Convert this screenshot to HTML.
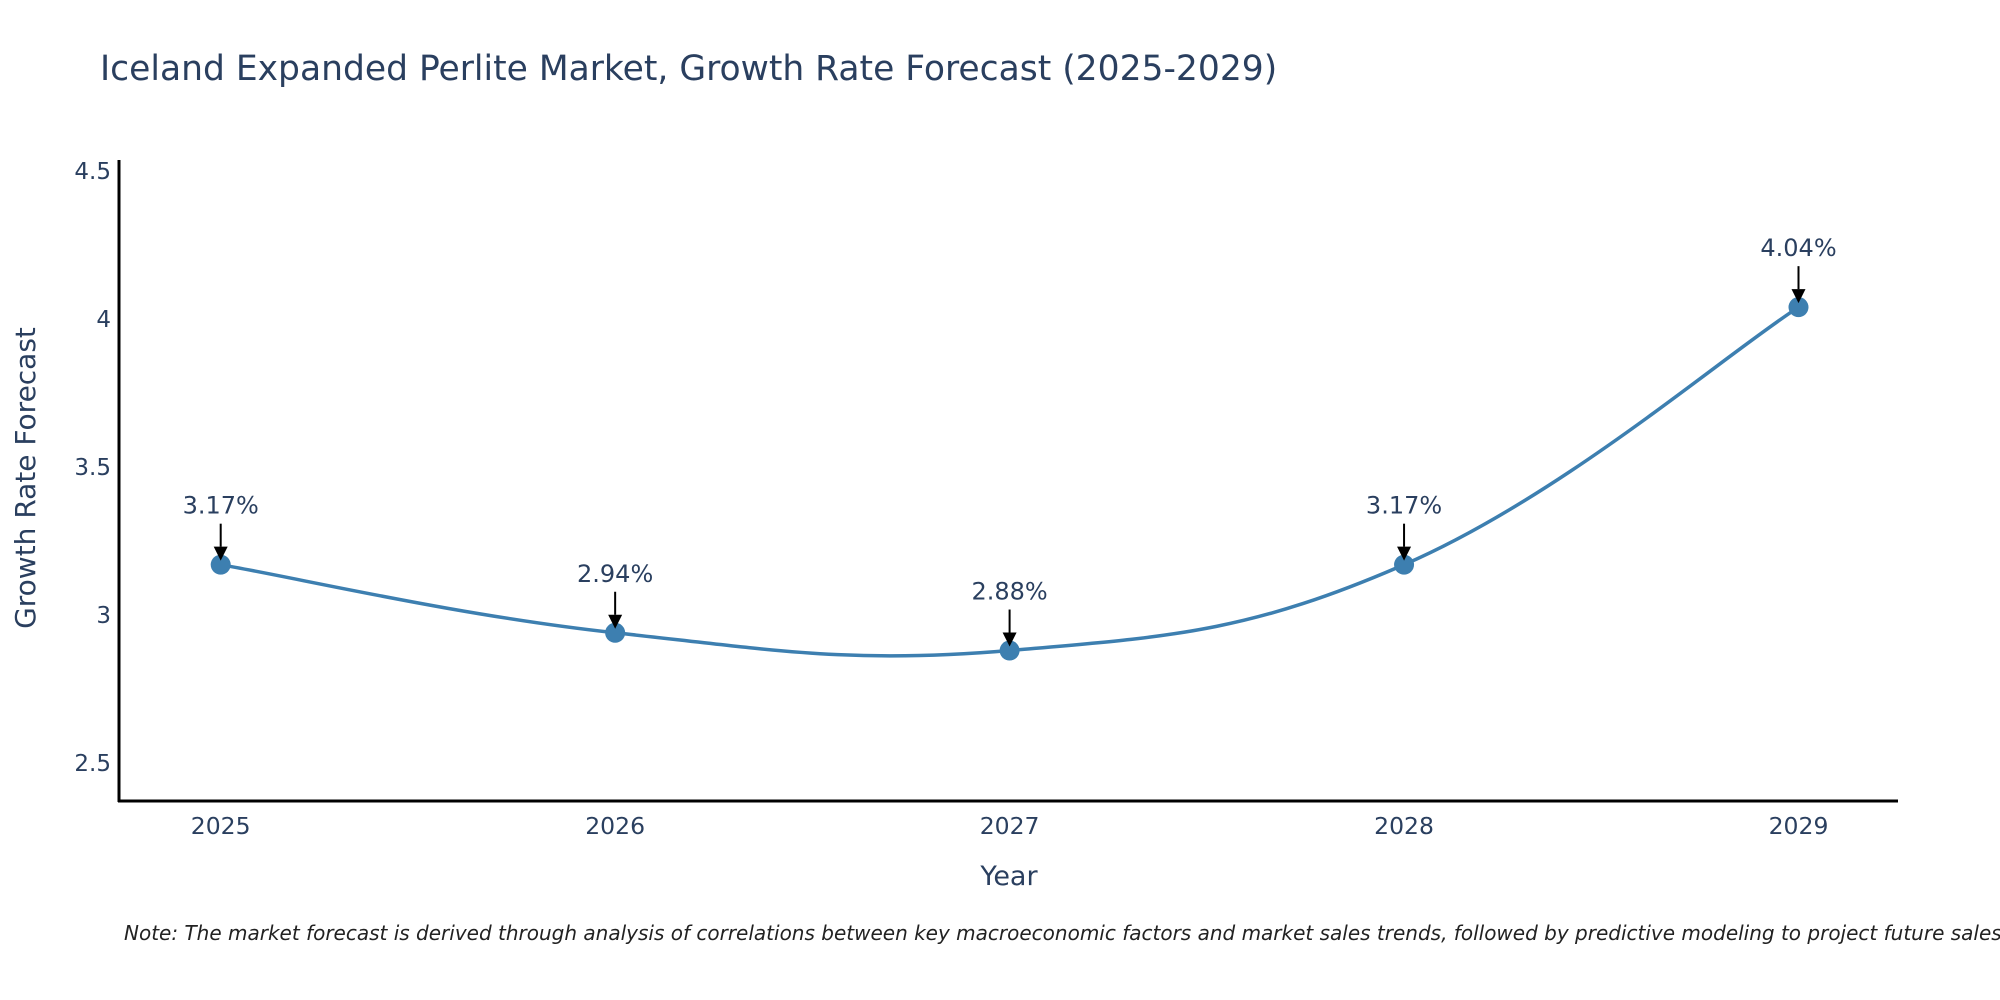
<!DOCTYPE html>
<html><head><meta charset="utf-8"><style>
body{margin:0;background:#fff;}
svg{display:block;font-family:"DejaVu Sans","Liberation Sans",sans-serif;}
</style></head><body>
<svg id="chart" width="2000" height="1000">
<text x="100" y="80" font-size="34.5" fill="#2a3f5f">Iceland Expanded Perlite Market, Growth Rate Forecast (2025-2029)</text>
<g id="plot"></g>
<line x1="119" y1="160" x2="119" y2="802" stroke="#000" stroke-width="3"/>
<line x1="118" y1="801" x2="1898" y2="801" stroke="#000" stroke-width="3"/>
<text x="1009" y="885" font-size="27" fill="#2a3f5f" text-anchor="middle">Year</text>
<text transform="translate(35,478) rotate(-90)" font-size="28" fill="#2a3f5f" text-anchor="middle">Growth Rate Forecast</text>
<text x="124" y="940" font-size="20" font-style="italic" fill="#222">Note: The market forecast is derived through analysis of correlations between key macroeconomic factors and market sales trends, followed by predictive modeling to project future sales.</text>
</svg>
<script>
const years=[2025,2026,2027,2028,2029];
const values=[3.17,2.94,2.88,3.17,4.04];
const labels=["3.17%","2.94%","2.88%","3.17%","4.04%"];
const yTicks=[2.5,3,3.5,4,4.5];
const NS="http://www.w3.org/2000/svg";
const xs=y=>220.7+(y-2025)*(1798.5-220.7)/4;
const ys=v=>615-(v-3)*296;
const g=document.getElementById('plot');
function mk(t,a){const e=document.createElementNS(NS,t);for(const k in a)e.setAttribute(k,a[k]);g.appendChild(e);return e;}
yTicks.forEach(t=>{const e=mk('text',{x:111,y:ys(t)+8,'font-size':23,fill:'#2a3f5f','text-anchor':'end'});e.textContent=String(t);

});
years.forEach(y=>{const e=mk('text',{x:xs(y),y:834,'font-size':23.5,fill:'#2a3f5f','text-anchor':'middle'});e.textContent=String(y);

});
const P=years.map((y,i)=>[xs(y),ys(values[i])]);
let d='M'+P[0][0]+','+P[0][1];const s=0.2;
for(let i=0;i<P.length-1;i++){const p0=P[Math.max(0,i-1)],p1=P[i],p2=P[i+1],p3=P[Math.min(P.length-1,i+2)];
const c1=[p1[0]+(p2[0]-p0[0])*s,p1[1]+(p2[1]-p0[1])*s],c2=[p2[0]-(p3[0]-p1[0])*s,p2[1]-(p3[1]-p1[1])*s];
d+=' C'+c1+' '+c2+' '+p2;}
const line=mk('path',{d:d,fill:'none',stroke:'#3d7fb0','stroke-width':3.5});


P.forEach((p,i)=>{const c=mk('circle',{cx:p[0],cy:p[1],r:10,fill:'#3d7fb0'});


const l=mk('line',{x1:p[0],y1:p[1]-41,x2:p[0],y2:p[1]-18,stroke:'#000','stroke-width':2});


const h=mk('path',{d:`M${p[0]-7},${p[1]-18} L${p[0]+7},${p[1]-18} L${p[0]},${p[1]-4} Z`,fill:'#000'});


const t=mk('text',{x:p[0],y:p[1]-51,'font-size':24,fill:'#2a3f5f','text-anchor':'middle'});t.textContent=labels[i];

});
</script>
</body></html>
